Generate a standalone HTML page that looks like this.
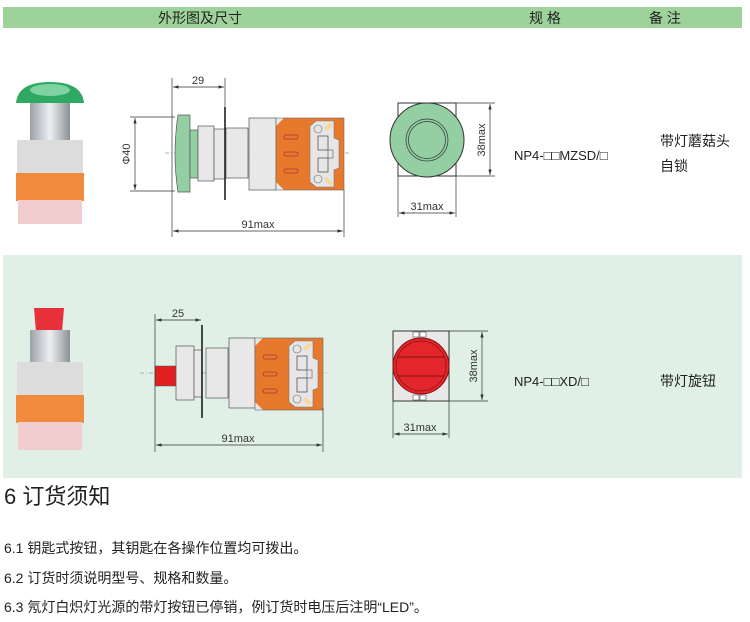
<!DOCTYPE html>
<html><head><meta charset="utf-8"><style>
body{margin:0;background:#fff;width:750px;height:622px;overflow:hidden;font-family:"Liberation Sans","Noto Sans CJK SC",sans-serif}
svg{position:absolute;left:0;top:0}
</style></head><body>
<svg width="750" height="622" viewBox="0 0 750 622" xmlns="http://www.w3.org/2000/svg" font-family="Liberation Sans, Noto Sans CJK SC, sans-serif">
<defs>
<marker id="a" viewBox="0 0 10 6" refX="10" refY="3" markerWidth="8" markerHeight="5" orient="auto-start-reverse"><path d="M0,0L10,3L0,6z" fill="#333"/></marker>
<linearGradient id="met" x1="0" x2="1"><stop offset="0" stop-color="#9aa0a6"/><stop offset="0.5" stop-color="#eef0f2"/><stop offset="1" stop-color="#8a9096"/></linearGradient>
<g id="blk">
<rect x="0" y="0" width="68" height="72" fill="#e8792c"/>
<polygon points="0,0 8,0 0,8" fill="#e8e8e8"/><polygon points="0,72 8,72 0,64" fill="#e8e8e8"/>
<rect x="8" y="17" width="14" height="4" rx="2" fill="none" stroke="#a33" stroke-width="0.8"/>
<rect x="8" y="34" width="14" height="4" rx="2" fill="none" stroke="#a33" stroke-width="0.8"/>
<rect x="8" y="51" width="14" height="4" rx="2" fill="none" stroke="#a33" stroke-width="0.8"/>
<polygon points="34,8 40,3 58,3 58,20 63,22 63,50 58,52 58,69 40,69 34,64" fill="#e6e6e6" stroke="#777" stroke-width="0.6"/>
<rect x="42" y="18" width="10" height="14" fill="none" stroke="#555" stroke-width="0.8"/>
<rect x="42" y="40" width="10" height="14" fill="none" stroke="#555" stroke-width="0.8"/>
<rect x="52" y="32" width="5" height="8" fill="none" stroke="#555" stroke-width="0.6"/>
<circle cx="42" cy="11" r="4" fill="none" stroke="#666" stroke-width="0.6"/><circle cx="42" cy="61" r="4" fill="none" stroke="#666" stroke-width="0.6"/>
<rect x="48" y="7" width="9" height="4" fill="#f4d9a0" transform="rotate(-40 52 9)"/>
<rect x="48" y="61" width="9" height="4" fill="#f4d9a0" transform="rotate(40 52 63)"/>
<rect x="0" y="0" width="68" height="72" fill="none" stroke="#666" stroke-width="0.6"/>
</g>
</defs>
<rect x="3" y="7" width="739" height="21" fill="#9dd39a"/>
<text x="200" y="23" font-size="14" text-anchor="middle" fill="#222">外形图及尺寸</text>
<text x="545" y="23" font-size="14" text-anchor="middle" fill="#222">规 格</text>
<text x="665" y="23" font-size="14" text-anchor="middle" fill="#222">备 注</text>
<rect x="3" y="255" width="739" height="223" fill="#e0f0e6"/>

<!-- photo 1 -->
<rect x="30" y="98" width="40" height="45" fill="url(#met)"/>
<path d="M16,103 Q18,82 50,82 Q82,82 84,103 Z" fill="#2fa864"/><ellipse cx="50" cy="90" rx="20" ry="6" fill="#7fd3a0"/>
<rect x="17" y="140" width="66" height="35" fill="#dcdcdc"/>
<rect x="16" y="173" width="68" height="28" fill="#f08a3c"/>
<rect x="18" y="200" width="64" height="24" fill="#f1cdd0"/>
<!-- drawing 1 -->
<line x1="165" y1="153" x2="350" y2="153" stroke="#666" stroke-width="0.6" stroke-dasharray="4,2,1,2"/>
<path d="M190,115 L178,115 Q172,153 178,192 L190,192Z" fill="#93cfa3" stroke="#555" stroke-width="0.7"/>
<rect x="190" y="130" width="8" height="48" fill="#93cfa3" stroke="#555" stroke-width="0.7"/>
<rect x="198" y="126" width="16" height="55" fill="#e8e8e8" stroke="#555" stroke-width="0.7"/>
<rect x="214" y="129" width="11" height="50" fill="#e8e8e8" stroke="#555" stroke-width="0.7"/>
<line x1="225" y1="107" x2="225" y2="200" stroke="#111" stroke-width="1.5"/>
<rect x="226" y="128" width="22" height="50" fill="#e8e8e8" stroke="#555" stroke-width="0.7"/>
<rect x="249" y="118" width="27" height="72" fill="#e8e8e8" stroke="#555" stroke-width="0.7"/>
<use href="#blk" x="276" y="118"/>
<g stroke="#333" stroke-width="0.7" fill="none">
<line x1="172" y1="78" x2="172" y2="237"/><line x1="225" y1="78" x2="225" y2="107"/><line x1="344" y1="190" x2="344" y2="237"/>
<line x1="173" y1="87" x2="224" y2="87" marker-start="url(#a)" marker-end="url(#a)"/>
<line x1="173" y1="231" x2="343" y2="231" marker-start="url(#a)" marker-end="url(#a)"/>
<line x1="130" y1="117" x2="175" y2="117"/><line x1="130" y1="191" x2="175" y2="191"/>
<line x1="135" y1="118" x2="135" y2="190" marker-start="url(#a)" marker-end="url(#a)"/>
</g>
<text x="198" y="84" font-size="11" text-anchor="middle" fill="#333">29</text>
<text x="258" y="228" font-size="11" text-anchor="middle" fill="#333">91max</text>
<text x="130" y="154" font-size="11" text-anchor="middle" fill="#333" transform="rotate(-90 130 154)">Φ40</text>
<!-- side 1 -->
<rect x="398" y="103" width="58" height="73" fill="#fff" stroke="#333"/>
<circle cx="427" cy="140" r="37" fill="#93cfa3" stroke="#333"/>
<circle cx="427" cy="140" r="21" fill="none" stroke="#333" stroke-width="0.7"/><circle cx="427" cy="140" r="18.5" fill="none" stroke="#333" stroke-width="0.7"/>
<g stroke="#333" stroke-width="0.7"><line x1="456" y1="103" x2="495" y2="103"/><line x1="456" y1="176" x2="495" y2="176"/>
<line x1="490" y1="104" x2="490" y2="175" marker-start="url(#a)" marker-end="url(#a)"/>
<line x1="398" y1="176" x2="398" y2="217"/><line x1="456" y1="176" x2="456" y2="217"/>
<line x1="399" y1="213" x2="455" y2="213" marker-start="url(#a)" marker-end="url(#a)"/></g>
<text x="427" y="210" font-size="11" text-anchor="middle" fill="#333">31max</text>
<text x="485" y="140" font-size="11" text-anchor="middle" fill="#333" transform="rotate(-90 485 140)">38max</text>
<text x="514" y="160" font-size="13" fill="#222">NP4-□□MZSD/□</text>
<text x="660" y="146" font-size="14" fill="#222">带灯蘑菇头</text>
<text x="660" y="171" font-size="14" fill="#222">自锁</text>

<!-- photo 2 -->
<path d="M34,308 L64,308 L62,332 L36,332 Z" fill="#e8303a"/>
<rect x="30" y="330" width="40" height="40" fill="url(#met)"/>
<rect x="17" y="362" width="66" height="35" fill="#dcdcdc"/>
<rect x="16" y="395" width="68" height="28" fill="#f08a3c"/>
<rect x="18" y="422" width="64" height="28" fill="#f1cdd0"/>
<!-- drawing 2 -->
<line x1="140" y1="373" x2="328" y2="373" stroke="#666" stroke-width="0.6" stroke-dasharray="4,2,1,2"/>
<rect x="155" y="366" width="21" height="20" fill="#e02020" stroke="#555" stroke-width="0.5"/>
<rect x="176" y="346" width="18" height="54" fill="#e8e8e8" stroke="#555" stroke-width="0.7"/>
<rect x="194" y="350" width="8" height="47" fill="#e8e8e8" stroke="#555" stroke-width="0.7"/>
<line x1="202" y1="325" x2="202" y2="418" stroke="#111" stroke-width="1.5"/>
<rect x="206" y="348" width="22" height="50" fill="#e8e8e8" stroke="#555" stroke-width="0.7"/>
<rect x="229" y="338" width="26" height="70" fill="#e8e8e8" stroke="#555" stroke-width="0.7"/>
<use href="#blk" x="255" y="338"/>
<g stroke="#333" stroke-width="0.7" fill="none">
<line x1="155" y1="314" x2="155" y2="452"/><line x1="323" y1="408" x2="323" y2="452"/>
<line x1="156" y1="320" x2="201" y2="320" marker-start="url(#a)" marker-end="url(#a)"/>
<line x1="156" y1="445" x2="322" y2="445" marker-start="url(#a)" marker-end="url(#a)"/>
</g>
<text x="178" y="317" font-size="11" text-anchor="middle" fill="#333">25</text>
<text x="238" y="442" font-size="11" text-anchor="middle" fill="#333">91max</text>
<!-- side 2 -->
<rect x="393" y="331" width="56" height="70" fill="#e8e8e8" stroke="#333"/>
<rect x="413" y="332" width="6" height="5" fill="#fff" stroke="#333" stroke-width="0.5"/><rect x="420" y="332" width="6" height="5" fill="#fff" stroke="#333" stroke-width="0.5"/>
<rect x="413" y="395" width="6" height="5" fill="#fff" stroke="#333" stroke-width="0.5"/><rect x="420" y="395" width="6" height="5" fill="#fff" stroke="#333" stroke-width="0.5"/>
<circle cx="421" cy="366" r="28" fill="#e3262c" stroke="#8a1010"/>
<circle cx="421" cy="366" r="25" fill="none" stroke="#8a1010" stroke-width="0.7"/>
<line x1="398" y1="357" x2="444" y2="357" stroke="#8a1010"/><line x1="398" y1="376" x2="444" y2="376" stroke="#8a1010"/>
<g stroke="#333" stroke-width="0.7"><line x1="449" y1="331" x2="488" y2="331"/><line x1="449" y1="401" x2="488" y2="401"/>
<line x1="482" y1="332" x2="482" y2="400" marker-start="url(#a)" marker-end="url(#a)"/>
<line x1="393" y1="401" x2="393" y2="438"/><line x1="449" y1="401" x2="449" y2="438"/>
<line x1="394" y1="434" x2="448" y2="434" marker-start="url(#a)" marker-end="url(#a)"/></g>
<text x="420" y="431" font-size="11" text-anchor="middle" fill="#333">31max</text>
<text x="477" y="366" font-size="11" text-anchor="middle" fill="#333" transform="rotate(-90 477 366)">38max</text>
<text x="514" y="386" font-size="13" fill="#222">NP4-□□XD/□</text>
<text x="660" y="386" font-size="14" fill="#222">带灯旋钮</text>

<text x="4" y="504" font-size="22" fill="#222">6 订货须知</text>
<text x="4" y="553" font-size="14" fill="#222">6.1 钥匙式按钮，其钥匙在各操作位置均可拨出。</text>
<text x="4" y="583" font-size="14" fill="#222">6.2 订货时须说明型号、规格和数量。</text>
<text x="4" y="612" font-size="14" fill="#222">6.3 氖灯白炽灯光源的带灯按钮已停销，例订货时电压后注明“LED”。</text>
</svg>
</body></html>
